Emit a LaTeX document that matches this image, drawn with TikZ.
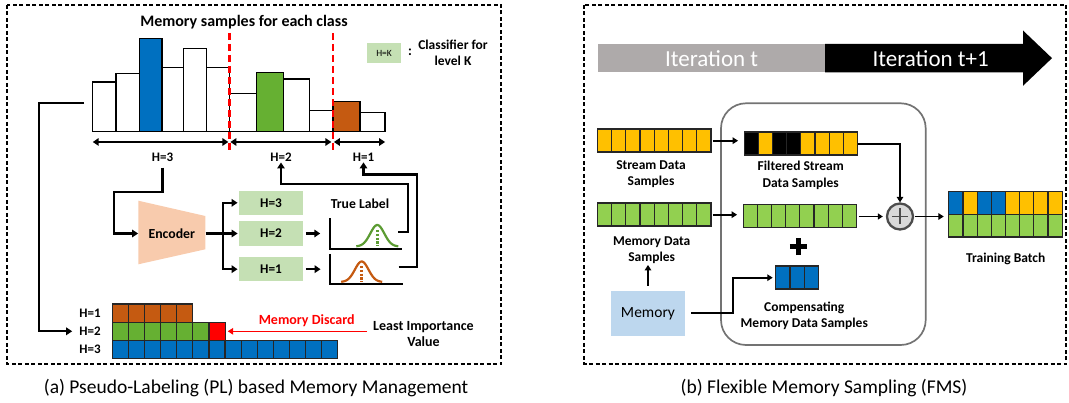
\documentclass[tikz,border=0pt]{standalone}
\usepackage{fontspec}
\setmainfont{Carlito}
\usetikzlibrary{arrows.meta,shapes.geometric,positioning}

\definecolor{barblue}{HTML}{0070C0}
\definecolor{bargreen}{HTML}{66B032}
\definecolor{barorange}{HTML}{C55A11}
\definecolor{clsgreen}{HTML}{C5E0B4}
\definecolor{encpeach}{HTML}{F8CBAD}
\definecolor{curvegreen}{HTML}{5B9B32}
\definecolor{itgray}{HTML}{AEAAAA}
\definecolor{strmyellow}{HTML}{FFC000}
\definecolor{memgreen}{HTML}{92D050}
\definecolor{memblue}{HTML}{BDD7EE}

\tikzstyle{panel} = [draw=black, line width=1.5pt, dash pattern=on 4pt off 2.5pt]
\tikzstyle{bar} = [draw=black, line width=1.3pt]
\tikzstyle{cut} = [draw=red, line width=2.3pt, dash pattern=on 7pt off 4pt]
\tikzstyle{conn} = [line width=2.1pt]
\tikzstyle{arrow} = [line width=2.1pt, -{Triangle[length=6pt,width=7.5pt]}]
\tikzstyle{dblarrow} = [line width=2.1pt, {Triangle[length=6pt,width=7.5pt]}-{Triangle[length=6pt,width=7.5pt]}]
\tikzstyle{thinarrow} = [line width=1.3pt, -{Triangle[length=5pt,width=6pt]}]
\tikzstyle{hlabel} = [font=\fontsize{13}{15.6}\selectfont\bfseries, inner sep=1pt]
\tikzstyle{title} = [font=\fontsize{16}{19}\selectfont\bfseries, inner sep=1pt]
\tikzstyle{classifier} = [rectangle, fill=clsgreen, minimum width=63.4pt, minimum height=24.5pt, inner sep=0pt, text centered, font=\fontsize{13.3}{16}\selectfont\bfseries]
\tikzstyle{plotbox} = [rectangle, minimum width=72pt, minimum height=30pt, inner sep=0pt]
\tikzstyle{cell} = [draw=black!85, line width=1.2pt]
\tikzstyle{strip} = [rectangle, minimum width=113.4pt, minimum height=23pt, inner sep=0pt]
\tikzstyle{sample} = [font=\fontsize{13.5}{16.6}\selectfont\bfseries, align=center, inner sep=1pt]
\tikzstyle{caption} = [font=\fontsize{19.5}{23}\selectfont, inner sep=1pt]

\begin{document}
\begin{tikzpicture}[x=1pt, y=-1pt, node distance=2cm]
\useasboundingbox (0,0) rectangle (1069,403);

% two dashed panels
\draw[panel] (7,5) rectangle (501,364);
\draw[panel] (584,5) rectangle (1066,364);

%% (a) pseudo-labeling
\node[title] (memtitle) at (244,22.5) {Memory samples for each class};
\foreach \xa/\xb/\ytop/\col in {92.7/115.9/82/white, 115.9/139.4/73.7/white, 139.4/162/38.4/barblue, 162/183.4/67.8/white, 183.4/206.6/48.4/white, 206.6/229.4/67.8/white, 229.4/256.7/93.8/white, 256.7/283.7/72.7/bargreen, 283.7/309.7/78.9/white, 309.7/332.9/110.7/white, 332.9/359.9/101.7/barorange, 359.9/385.1/112.5/white}
  \draw[bar, fill=\col] (\xa,131.5) rectangle (\xb,\ytop);
\coordinate (cut0) at (92.7,142);
\coordinate (cut1) at (229.4,142);
\coordinate (cut2) at (332.9,142);
\coordinate (cut3) at (385.1,142);
\draw[cut] (229.4,33) -- (229.4,150);
\draw[cut] (332.9,33) -- (332.9,150);
\draw[dblarrow] (cut0) -- ([xshift=-1pt]cut1);
\draw[dblarrow] ([xshift=1pt]cut1) -- ([xshift=-1.5pt]cut2);
\draw[dblarrow] ([xshift=1pt]cut2) -- (cut3);
\node[hlabel] (h3lab) at (162.5,157) {H=3};
\node[hlabel] (h2lab) at (281,157) {H=2};
\node[hlabel] (h1lab) at (363.5,157) {H=1};

% legend
\node[classifier, minimum width=34.6pt, minimum height=20pt, font=\fontsize{9.5}{11}\selectfont] (legend) at (384.1,53.3) {H=K};
\node[hlabel, font=\fontsize{14}{16}\selectfont\bfseries] (colon) at (410,52) {:};
\node[hlabel, align=center, font=\fontsize{13.5}{16.6}\selectfont\bfseries] (legendtxt) at (453,53) {Classifier for\\level K};

% encoder and classifiers
\fill[encpeach] (138.3,200.7) -- (205.3,216) -- (205.3,249.3) -- (138.3,264.3) -- cycle;
\node[hlabel, font=\fontsize{13.8}{16}\selectfont\bfseries, minimum width=67pt, minimum height=63.6pt, inner sep=0pt] (encoder) at (171.8,233.5) {Encoder};
\node[classifier] (cls3) at (271,202.8) {H=3};
\node[classifier] (cls2) at (271,233.5) {H=2};
\node[classifier] (cls1) at (271,269.2) {H=1};
\draw[arrow, shorten <=5pt] (h3lab.south) |- (114,192.3) |- (encoder.west);
\draw[conn] (encoder.east) -- (222.7,233.5) coordinate (fork);
\draw[arrow, shorten >=1.5pt] (fork) |- (cls3.west);
\draw[arrow, shorten >=1.5pt] (fork) -- (cls2.west);
\draw[arrow, shorten >=1.5pt] (fork) |- (cls1.west);

% pseudo labels vs true label
\node[hlabel, font=\fontsize{13.7}{16}\selectfont\bfseries] (truelab) at (360,204) {True Label};
\node[plotbox] (pl2) at (366,233.5) {};
\node[plotbox] (pl1) at (366.3,269.2) {};
\draw[conn, line width=1.8pt] (pl2.north west) -- (pl2.south west) -- (pl2.south east);
\draw[conn, line width=1.8pt] (pl1.north west) -- (pl1.south west) -- (pl1.south east);
\draw[curvegreen, line width=2.2pt] plot[domain=-21:21, samples=40, smooth] ({377.3+\x},{246.5-21.5*exp(-(\x/7)^2/2)});
\draw[curvegreen, line width=2.8pt, dash pattern=on 2.2pt off 1.6pt] (377.3,230) -- (377.3,246.5);
\draw[barorange, line width=2.2pt] plot[domain=-20.5:20.5, samples=40, smooth] ({361.7+\x},{282-20.5*exp(-(\x/6.8)^2/2)});
\draw[barorange, line width=2.8pt, dash pattern=on 2.2pt off 1.6pt] (361.7,266) -- (361.7,282);
\draw[arrow, shorten <=3pt, shorten >=9.5pt] (cls2.east) -- (pl2.west);
\draw[arrow, shorten <=3pt, shorten >=9.5pt] (cls1.east) -- (pl1.west);
\draw[arrow] ([xshift=-4pt,yshift=1.5pt]pl2.east) -- (407.7,232) -- (407.7,184) -| (h2lab.south);
\draw[arrow] ([xshift=-4pt,yshift=2.5pt]pl1.east) -- (417.3,266.7) -- (417.3,174.5) -| (h1lab.south);

% memory buffer per level
\node[hlabel] (mh1) at (90,313.1) {H=1};
\node[hlabel] (mh2) at (90,331.3) {H=2};
\node[hlabel] (mh3) at (90,349.5) {H=3};
\foreach \i in {0,...,4}
  \draw[cell, fill=barorange] ({112.3+16.1*\i},304) rectangle ++(16.1,18.2);
\foreach \i in {0,...,5}
  \draw[cell, fill=bargreen] ({112.3+16.1*\i},322.2) rectangle ++(16.1,18.2);
\foreach \i in {0,...,13}
  \draw[cell, fill=barblue] ({112.3+16.1*\i},340.4) rectangle ++(16.1,18.2);
\node[cell, fill=red, minimum width=16.1pt, minimum height=18.2pt, inner sep=0pt] (lowcell) at (217.05,331.3) {};
\node[hlabel, align=center, font=\fontsize{14}{16}\selectfont\bfseries] (least) at (423.5,334.5) {Least Importance\\Value};
\node[hlabel, text=red, font=\fontsize{14}{16}\selectfont\bfseries] (discard) at (306.7,320.5) {Memory Discard};
\draw[red, line width=1.5pt, -{Triangle[length=5.5pt,width=6.5pt]}, shorten <=5pt, shorten >=2pt] (least.west |- lowcell.east) -- (lowcell.east);
\coordinate (histin) at (84,103);
\draw[arrow, shorten >=6pt] (histin) -- (39,103) |- (mh2.west);

\node[caption] (capa) at (256,388) {(a) Pseudo-Labeling (PL) based Memory Management};

%% (b) flexible memory sampling
\node[rectangle, fill=itgray, minimum width=226.7pt, minimum height=28.3pt, inner sep=0pt, text=white, font=\fontsize{23}{26}\selectfont] (itert) at (711.65,58.15) {Iteration t};
\fill[black] (itert.north east) -- (1023,44) -- (1023,30.5) -- (1052,58.15) -- (1023,85.8) -- (1023,72.3) -- (itert.south east) -- cycle;
\node[text=white, font=\fontsize{23}{26}\selectfont, inner sep=0pt] (iternext) at (930.7,58.15) {Iteration t+1};

\node[draw=black!55, line width=1.7pt, rounded corners=25pt, minimum width=204.7pt, minimum height=241.7pt] (fmsbox) at (823.35,224.15) {};

\node[strip] (stream) at (654.4,140.7) {};
\foreach \c [count=\i from 0] in {strmyellow,strmyellow,strmyellow,strmyellow,strmyellow,strmyellow,strmyellow,strmyellow}
  \draw[cell, fill=\c] ([xshift=\i*14.175pt]stream.north west) rectangle ++(14.175,23);
\node[strip] (filtered) at (801,143.7) {};
\foreach \c [count=\i from 0] in {black,strmyellow,black,black,strmyellow,strmyellow,strmyellow,strmyellow}
  \draw[cell, fill=\c] ([xshift=\i*14.175pt]filtered.north west) rectangle ++(14.175,23);
\node[strip] (memdata) at (654.4,214.7) {};
\foreach \c [count=\i from 0] in {memgreen,memgreen,memgreen,memgreen,memgreen,memgreen,memgreen,memgreen}
  \draw[cell, fill=\c] ([xshift=\i*14.175pt]memdata.north west) rectangle ++(14.175,23);
\node[strip] (memkept) at (800,216.5) {};
\foreach \c [count=\i from 0] in {memgreen,memgreen,memgreen,memgreen,memgreen,memgreen,memgreen,memgreen}
  \draw[cell, fill=\c] ([xshift=\i*14.175pt]memkept.north west) rectangle ++(14.175,23);
\node[strip, minimum width=42.5pt] (compens) at (797.2,277.7) {};
\foreach \c [count=\i from 0] in {barblue,barblue,barblue}
  \draw[cell, fill=\c] ([xshift=\i*14.175pt]compens.north west) rectangle ++(14.175,23);
\node[strip, minimum height=45.6pt] (batch) at (1005.7,214.5) {};
\foreach \c [count=\i from 0] in {barblue,strmyellow,barblue,barblue,strmyellow,strmyellow,strmyellow,strmyellow}
  \draw[cell, fill=\c] ([xshift=\i*14.175pt]batch.north west) rectangle ++(14.175,22.8);
\foreach \i in {0,...,7}
  \draw[cell, fill=memgreen] ([xshift=\i*14.175pt,yshift=-22.8pt]batch.north west) rectangle ++(14.175,22.8);

\node[sample] (streamlab) at (651,174) {Stream Data\\Samples};
\node[sample] (filteredlab) at (800.7,175.5) {Filtered Stream\\Data Samples};
\node[sample] (memdatalab) at (651.7,250) {Memory Data\\Samples};
\node[sample] (compenslab) at (804.3,316) {Compensating\\Memory Data Samples};
\node[sample, below=14pt of batch] (batchlab) {Training Batch};

\node[fill=memblue, minimum width=74pt, minimum height=44.7pt, font=\fontsize{15.5}{18}\selectfont] (memory) at (648,313.3) {Memory};
\node[circle, draw=black!70, fill=black!15, line width=2.3pt, minimum size=26pt, inner sep=0pt] (oplus) at (900,216.5) {};
\draw[line width=1.8pt, black!70] ([xshift=-8pt]oplus.center) -- ([xshift=8pt]oplus.center) ([yshift=-8pt]oplus.center) -- ([yshift=8pt]oplus.center);
\coordinate (join) at (798.3,246.7);
\draw[line width=5pt] ([xshift=-8.5pt]join) -- ([xshift=8.5pt]join) ([yshift=-8.5pt]join) -- ([yshift=8.5pt]join);

\tikzstyle{farrow} = [line width=1.9pt, -{Triangle[length=5.5pt,width=6.5pt]}]
\draw[farrow, shorten <=1.5pt, shorten >=6pt] (stream.east) -- (stream.east -| filtered.west);
\draw[farrow, shorten <=1.5pt, shorten >=6pt] (memdata.east) -- (memdata.east -| memkept.west);
\draw[thinarrow, shorten <=2pt, shorten >=3pt] (memkept.east) -- (oplus.west);
\draw[farrow] (filtered.east) -| (oplus.north);
\draw[farrow, shorten <=1pt, shorten >=5pt] (oplus.east) -- (batch.west |- oplus.east);
\draw[farrow, shorten <=5pt] (memory.north) -- (memory.north |- memdatalab.south);
\draw[farrow, shorten <=6pt, shorten >=3pt] (memory.east) -- (732.7,313.3) |- (compens.west);

\node[caption] (capb) at (824,388) {(b) Flexible Memory Sampling (FMS)};
\end{tikzpicture}
\end{document}
